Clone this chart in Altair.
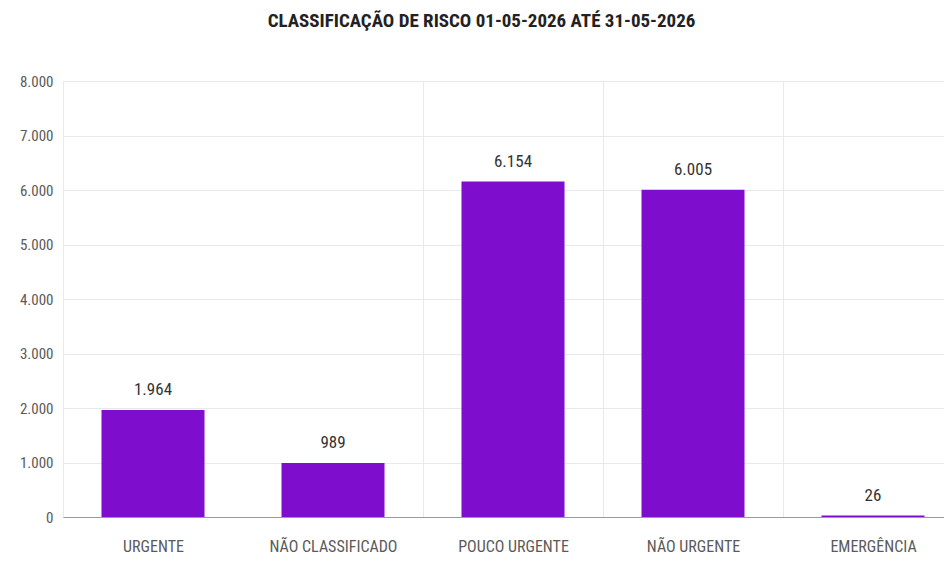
import altair as alt
import pandas as pd

categories = ["URGENTE", "NÃO CLASSIFICADO", "POUCO URGENTE", "NÃO URGENTE", "EMERGÊNCIA"]
values = [1964, 989, 6154, 6005, 26]
y_ticks = [0, 1000, 2000, 3000, 4000, 5000, 6000, 7000, 8000]
title_text = "CLASSIFICAÇÃO DE RISCO 01-05-2026 ATÉ 31-05-2026"

df = pd.DataFrame({"categoria": categories, "valor": values})

FONT = "Roboto Condensed, Liberation Sans Narrow, Arial Narrow, Roboto, sans-serif"
BAR = "#7F0DCD"

x = alt.X(
    "categoria:N",
    sort=categories,
    title=None,
    scale=alt.Scale(paddingInner=0, paddingOuter=0, range=[0, 900]),
    axis=alt.Axis(
        labelAngle=0,
        labelFont=FONT,
        labelFontSize=16,
        labelColor="#5a5a5a",
        labelPadding=21,
        ticks=False,
        domain=True,
        domainColor="#9a9a9a",
        domainWidth=1.2,
        grid=True,
        gridColor="#e6e9ef",
        tickBand="extent",
        gridOpacity={"condition": {"test": "datum.value === 'URGENTE'", "value": 0}, "value": 1},
    ),
)

y = alt.Y(
    "valor:Q",
    title=None,
    scale=alt.Scale(domain=[0, 8000], nice=False),
    axis=alt.Axis(
        values=y_ticks,
        labelExpr="replace(format(datum.value, ','), ',', '.')",
        labelFont=FONT,
        labelFontSize=15,
        labelColor="#5a5a5a",
        labelPadding=10,
        ticks=False,
        domain=False,
        grid=True,
        gridColor="#e6e9ef",
    ),
)

base = alt.Chart(df).encode(x=x, y=y)

bars = base.mark_bar(width=103, color=BAR)

labels = base.transform_calculate(
    rotulo="replace(format(datum.valor, ','), ',', '.')"
).mark_text(
    baseline="bottom", dy=-11, font=FONT, fontSize=17, color="#333333"
).encode(text="rotulo:N")

chart = (
    alt.layer(bars, labels)
    .properties(
        width=881,
        height=436,
        autosize=alt.AutoSizeParams(type="none"),
        padding={"left": 55, "top": 73, "right": 0, "bottom": 39},
        title=alt.Title(
            title_text,
            font=FONT,
            fontSize=19,
            fontWeight="bold",
            color="#222222",
            anchor="middle",
            dx=-22,
            offset=43,
        ),
    )
    .configure_view(stroke=None)
)

chart.save("out.html", embed_options={"renderer": "svg", "actions": False})
